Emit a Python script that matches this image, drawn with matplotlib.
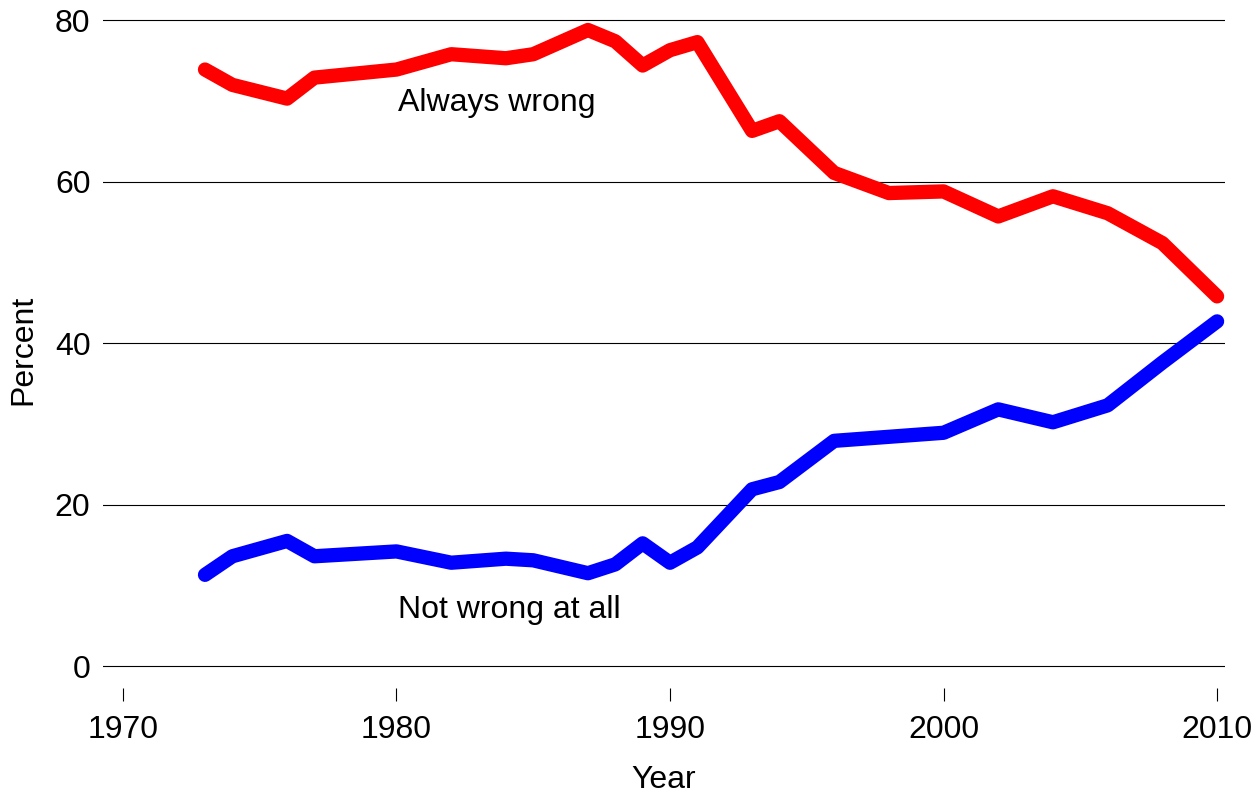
import numpy as np
import matplotlib
matplotlib.use('Agg')
from matplotlib import pyplot as plt

# survey years and percentages
years = [1973, 1974, 1976, 1977, 1980, 1982, 1984, 1985, 1987, 1988, 1989,
         1990, 1991, 1993, 1994, 1996, 1998, 2000, 2002, 2004, 2006, 2008, 2010]
always_wrong = [73.9, 72.0, 70.3, 72.9, 73.9, 75.8, 75.3, 75.8, 78.8, 77.4, 74.4,
                76.3, 77.3, 66.3, 67.5, 61.1, 58.6, 58.8, 55.7, 58.2, 56.1, 52.4, 45.8]
not_wrong = [11.3, 13.6, 15.5, 13.6, 14.2, 12.8, 13.3, 13.1, 11.5, 12.6, 15.2,
             12.8, 14.7, 21.9, 22.8, 27.9, 28.4, 28.9, 31.8, 30.2, 32.3, 37.6, 42.7]
xticks = [1970, 1980, 1990, 2000, 2010]
yticks = [0, 20, 40, 60, 80]

plt.rcParams['font.family'] = ['Liberation Sans', 'DejaVu Sans']
fs = 23

fig = plt.figure(figsize=(12.59, 7.95), dpi=100)
ax = fig.add_axes([0.0818, 0.1346, 0.8912, 0.850])

for y in yticks:
    ax.axhline(y, color='black', lw=0.8, zorder=1)

ax.plot(years, always_wrong, color='red', lw=10.3, solid_capstyle='round',
        solid_joinstyle='round', zorder=3)
ax.plot(years, not_wrong, color='blue', lw=10.3, solid_capstyle='round',
        solid_joinstyle='round', zorder=3)

ax.text(1980.05, 69.8, 'Always wrong', fontsize=fs, va='center', ha='left')
ax.text(1980.05, 6.9, 'Not wrong at all', fontsize=fs, va='center', ha='left')

ax.set_xlim(1969.27, 2010.29)
ax.set_ylim(-2.72, 81.0)
ax.set_xticks(xticks)
ax.set_yticks(yticks)
ax.tick_params(axis='x', length=9.5, width=0.8, pad=10, labelsize=fs)
ax.tick_params(axis='y', length=0, pad=9, labelsize=fs)
for s in ax.spines.values():
    s.set_visible(False)

ax.set_xlabel('Year', fontsize=fs, labelpad=14)
ax.set_ylabel('Percent', fontsize=fs, labelpad=12)

plt.savefig('out.png', dpi=100)
